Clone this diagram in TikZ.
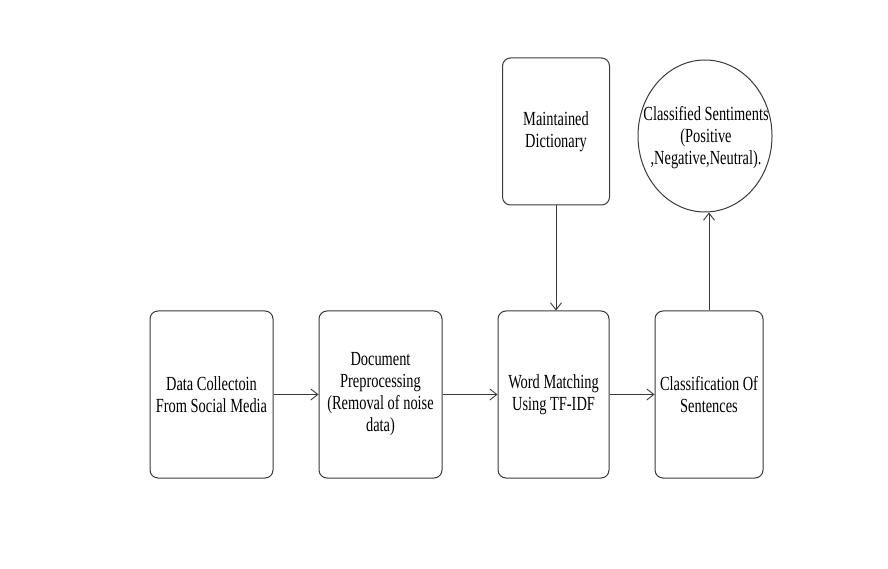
\documentclass[tikz,border=0pt]{standalone}
\usepackage{fontspec}
\setmainfont{Liberation Serif}[FakeStretch=0.72]
\usetikzlibrary{arrows.meta,shapes.geometric}
\definecolor{ln}{HTML}{3A3A3A}
\begin{document}
\begin{tikzpicture}[x=1pt,y=1pt,
  box/.style={draw=ln, line width=1pt, rounded corners=8pt, align=center, inner sep=0pt, font=\fontsize{20}{22}\selectfont, text=black},
  txt/.style={align=center, inner sep=0pt, font=\fontsize{20}{22}\selectfont, text=black},
  arr/.style={draw=ln, line width=0.9pt, -{Straight Barb[length=7pt,width=11pt,line width=0.9pt]}}]
\useasboundingbox[fill=white] (0,0) rectangle (888,568);
\node[box, minimum width=123pt, minimum height=167pt] (b1) at (211.5,173.5) {Data Collectoin\\From Social Media};
\node[box, minimum width=123pt, minimum height=167pt] (b2) at (380.5,173.5) {Document\\Preprocessing\\(Removal of noise\\data)};
\node[box, minimum width=111pt, minimum height=167pt] (b3) at (553.5,173.5) {Word Matching\\Using TF-IDF};
\node[box, minimum width=108pt, minimum height=167pt] (b4) at (709,173.5) {Classification Of\\Sentences};
\node[box, minimum width=107pt, minimum height=147pt] (b5) at (556,436.5) {Maintained\\Dictionary};
\node[draw=ln, line width=1pt, ellipse, inner sep=0pt, minimum width=134pt, minimum height=152pt] (circ) at (705,432) {};
\node[txt] (circtxt) at (706,430) {Classified Sentiments\\(Positive\\,Negative,Neutral).};
\draw[arr] (b1.east) -- (b2.west);
\draw[arr] (b2.east) -- (b3.west);
\draw[arr] (b3.east) -- (b4.west);
\draw[arr] (b5.south) -- (b5.south |- b3.north);
\draw[arr] (b4.north) -- (b4.north |- circ.south);
\end{tikzpicture}
\end{document}
